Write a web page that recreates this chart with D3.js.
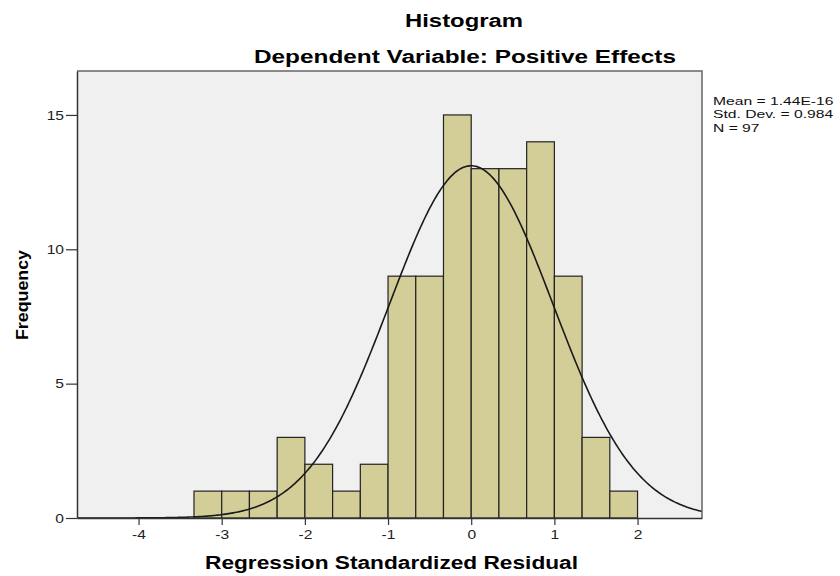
<!DOCTYPE html>
<html><head><meta charset="utf-8">
<script src="https://cdn.jsdelivr.net/npm/d3@7"></script>
<style>body{margin:0;background:#fff}svg{display:block}</style>
</head><body>
<svg id="c" width="840" height="576"></svg>
<script>
const binStart = -10/3;
const binWidth = 1/3;
const counts = [1,1,1,3,2,1,2,9,9,15,13,13,14,9,3,1];
const xTicks = [-4,-3,-2,-1,0,1,2];
const yTicks = [0,5,10,15];
const stats = {mean: 1.44e-16, sd: 0.984, n: 97};
const statLabels = ["Mean = 1.44E-16","Std. Dev. = 0.984","N = 97"];

const svg = d3.select("#c");
const L=77, R=702, T=71, B=518;
const x = d3.scaleLinear().domain([-4.74, 2.775]).range([L,R]);
const y = d3.scaleLinear().domain([0, 16.635]).range([B,T]);
const font = "'Liberation Sans', Arial, sans-serif";

function stretch(sel, f){
  sel.each(function(){ const w=this.getComputedTextLength(); d3.select(this).attr("textLength", w*f).attr("lengthAdjust","spacingAndGlyphs"); });
}

svg.append("rect").attr("x",L).attr("y",T).attr("width",R-L).attr("height",B-T).attr("fill","#f0f0f0");

const bins = counts.map((c,i)=>({x0: binStart+i*binWidth, x1: binStart+(i+1)*binWidth, c}));
svg.append("g").selectAll("rect").data(bins).join("rect")
  .attr("x",d=>x(d.x0)).attr("y",d=>y(d.c))
  .attr("width",d=>x(d.x1)-x(d.x0)).attr("height",d=>y(0)-y(d.c))
  .attr("fill","#d3ce97").attr("stroke","#222").attr("stroke-width",1.2);

svg.append("clipPath").attr("id","clip").append("rect").attr("x",L).attr("y",T).attr("width",R-L).attr("height",B-T);
const pts = d3.range(0,401).map(i=>{
  const xv = x.domain()[0] + (x.domain()[1]-x.domain()[0])*i/400;
  const z = (xv-stats.mean)/stats.sd;
  return [xv, stats.n*binWidth*Math.exp(-0.5*z*z)/(stats.sd*Math.sqrt(2*Math.PI))];
});
svg.append("path").attr("clip-path","url(#clip)").datum(pts)
  .attr("d",d3.line().x(d=>x(d[0])).y(d=>y(d[1])))
  .attr("fill","none").attr("stroke","#1a1a1a").attr("stroke-width",1.6);

// frame
svg.append("path").attr("d",`M${L},${T}H${R}V${B}`).attr("fill","none").attr("stroke","#666").attr("stroke-width",1.5);

const xa = svg.append("g").attr("transform",`translate(0,${B})`)
  .call(d3.axisBottom(x).tickValues(xTicks).tickSize(7).tickSizeOuter(0).tickPadding(5).tickFormat(d=>String(d)));
const ya = svg.append("g").attr("transform",`translate(${L},0)`)
  .call(d3.axisLeft(y).tickValues(yTicks).tickSize(11).tickSizeOuter(0).tickPadding(2));
[xa,ya].forEach(a=>{
  a.select(".domain").attr("stroke","#333").attr("stroke-width",1.5);
  a.selectAll(".tick line").attr("stroke","#333").attr("stroke-width",1.2);
  a.selectAll(".tick text").attr("font-family",font).attr("font-size",13).attr("fill","#222");
  stretch(a.selectAll(".tick text"), 1.2);
});

const t1 = svg.append("text").attr("x",464).attr("y",26.5).attr("text-anchor","middle")
  .attr("font-family",font).attr("font-weight","bold").attr("font-size",18).text("Histogram");
const t2 = svg.append("text").attr("x",465).attr("y",63).attr("text-anchor","middle")
  .attr("font-family",font).attr("font-weight","bold").attr("font-size",18).text("Dependent Variable: Positive Effects");
const t3 = svg.append("text").attr("x",391.5).attr("y",569).attr("text-anchor","middle")
  .attr("font-family",font).attr("font-weight","bold").attr("font-size",18).text("Regression Standardized Residual");
const t4 = svg.append("text").attr("transform","translate(28,295) rotate(-90)").attr("text-anchor","middle")
  .attr("font-family",font).attr("font-weight","bold").attr("font-size",17).text("Frequency");
t1.attr("textLength",118).attr("lengthAdjust","spacingAndGlyphs");
t2.attr("textLength",422).attr("lengthAdjust","spacingAndGlyphs");
t3.attr("textLength",373).attr("lengthAdjust","spacingAndGlyphs");
t4.attr("textLength",90).attr("lengthAdjust","spacingAndGlyphs");

const lg = svg.append("g").selectAll("text").data(statLabels).join("text")
  .attr("x",713).attr("y",(d,i)=>105+i*13.4)
  .attr("font-family",font).attr("font-size",11.5).attr("fill","#111").text(d=>d);
stretch(lg, 1.36);
</script>
</body></html>
